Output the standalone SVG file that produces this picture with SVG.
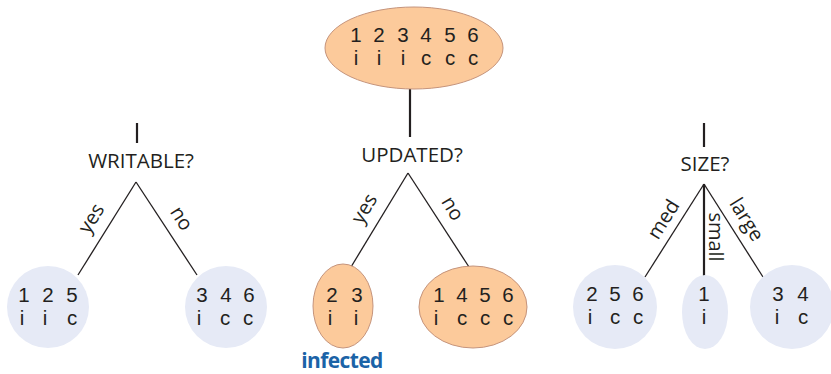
<svg xmlns="http://www.w3.org/2000/svg" width="831" height="374" viewBox="0 0 831 374">
<style>
text{font-family:"Open Sans","Liberation Sans",sans-serif;fill:#231f20;}
.q{font-size:20.5px;text-anchor:middle;}
.d{font-family:"Liberation Sans","Open Sans",sans-serif;font-size:20.5px;text-anchor:middle;}
.lb{font-size:20px;text-anchor:middle;}
.orange{fill:#fcca9b;stroke:#c5947c;stroke-width:1;}
.blue{fill:#e6eaf6;stroke:none;}
.ln{stroke:#231f20;stroke-width:1.3;fill:none;}
.tk{stroke:#231f20;stroke-width:2.2;fill:none;}
.inf{font-size:21px;font-weight:bold;fill:#1b63a7;letter-spacing:-0.6px;}
</style>
<g id="connectors">
<line class="tk" x1="137" y1="123" x2="137" y2="143"/>
<line class="ln" x1="136" y1="182" x2="78" y2="275"/>
<line class="ln" x1="136" y1="182" x2="197" y2="275"/>
<line class="tk" x1="410" y1="89" x2="410" y2="137"/>
<line class="ln" x1="408" y1="173" x2="351" y2="267"/>
<line class="ln" x1="408" y1="173" x2="469" y2="267"/>
<line class="tk" x1="704" y1="123" x2="704" y2="147"/>
<line class="ln" x1="704" y1="184" x2="645" y2="277"/>
<line class="tk" x1="704" y1="184" x2="704" y2="276"/>
<line class="ln" x1="704" y1="184" x2="763" y2="277"/>
</g>
<g id="labels">
<text class="lb" transform="translate(97,222) rotate(-58)">yes</text>
<text class="lb" transform="translate(176,222) rotate(58)">no</text>
<text class="lb" transform="translate(370,212) rotate(-59)">yes</text>
<text class="lb" transform="translate(447,212) rotate(59)">no</text>
<text class="lb" transform="translate(669,223) rotate(-58)">med</text>
<text class="lb" transform="translate(709,237) rotate(90)">small</text>
<text class="lb" transform="translate(741,223) rotate(58)">large</text>
</g>
<g id="root">
<ellipse class="orange" cx="414" cy="48" rx="89" ry="41"/>
<text class="d"><tspan x="356" y="42">1</tspan><tspan x="379">2</tspan><tspan x="403">3</tspan><tspan x="426">4</tspan><tspan x="450">5</tspan><tspan x="473">6</tspan><tspan x="356" y="65">i</tspan><tspan x="379">i</tspan><tspan x="403">i</tspan><tspan x="426">c</tspan><tspan x="450">c</tspan><tspan x="473">c</tspan></text>
</g>
<g id="writable">
<text class="q" x="141" y="168">WRITABLE?</text>
</g>
<g id="updated">
<text class="q" x="412" y="162">UPDATED?</text>
</g>
<g id="size">
<text class="q" x="705" y="171">SIZE?</text>
</g>
<g id="w-yes">
<circle class="blue" cx="48" cy="307" r="41"/>
<text class="d"><tspan x="24" y="302">1</tspan><tspan x="48">2</tspan><tspan x="72">5</tspan><tspan x="22" y="325">i</tspan><tspan x="45">i</tspan><tspan x="72">c</tspan></text>
</g>
<g id="w-no">
<circle class="blue" cx="226" cy="307" r="41"/>
<text class="d"><tspan x="202" y="302">3</tspan><tspan x="226">4</tspan><tspan x="249">6</tspan><tspan x="199" y="325">i</tspan><tspan x="225">c</tspan><tspan x="248">c</tspan></text>
</g>
<g id="u-yes">
<ellipse class="orange" cx="343" cy="306" rx="30" ry="42"/>
<text class="d"><tspan x="332" y="302">2</tspan><tspan x="357">3</tspan><tspan x="330" y="325">i</tspan><tspan x="356">i</tspan></text>
<text class="inf" x="342" y="368" text-anchor="middle">infected</text>
</g>
<g id="u-no">
<ellipse class="orange" cx="473" cy="307" rx="54" ry="41"/>
<text class="d"><tspan x="439" y="302">1</tspan><tspan x="462">4</tspan><tspan x="485">5</tspan><tspan x="508">6</tspan><tspan x="436" y="325">i</tspan><tspan x="462">c</tspan><tspan x="485">c</tspan><tspan x="508">c</tspan></text>
</g>
<g id="s-med">
<circle class="blue" cx="615" cy="307" r="42"/>
<text class="d"><tspan x="592" y="301">2</tspan><tspan x="615">5</tspan><tspan x="638">6</tspan><tspan x="590" y="324">i</tspan><tspan x="615">c</tspan><tspan x="638">c</tspan></text>
</g>
<g id="s-small">
<ellipse class="blue" cx="705" cy="312" rx="23" ry="37"/>
<text class="d"><tspan x="704" y="301">1</tspan><tspan x="704" y="324">i</tspan></text>
</g>
<g id="s-large">
<circle class="blue" cx="792" cy="307" r="42"/>
<text class="d"><tspan x="778" y="301">3</tspan><tspan x="803">4</tspan><tspan x="777" y="324">i</tspan><tspan x="803">c</tspan></text>
</g>
</svg>
